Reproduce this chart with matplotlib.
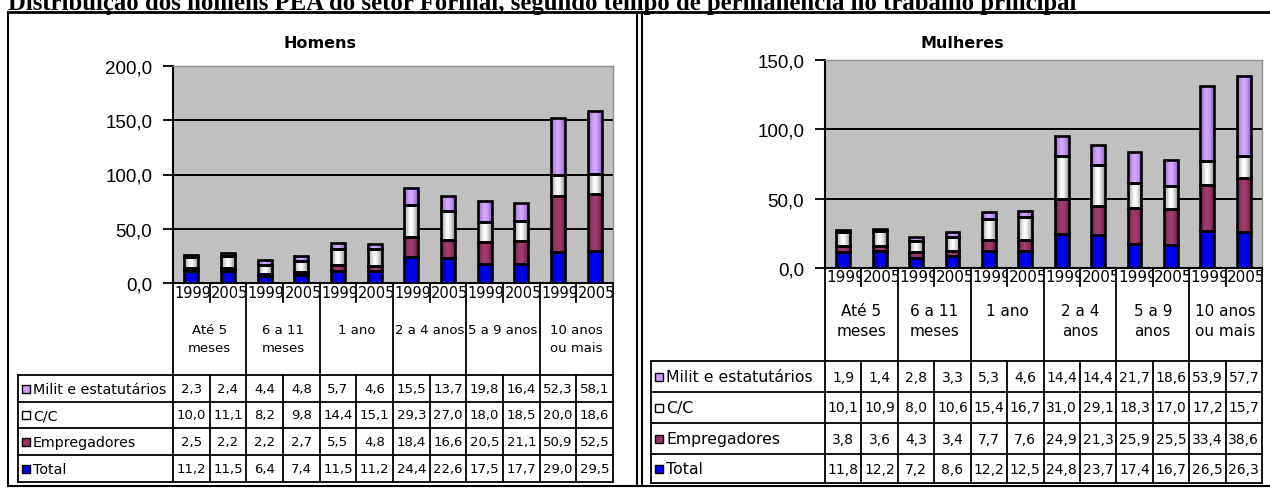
import numpy as np
import matplotlib
matplotlib.use("Agg")
import matplotlib.pyplot as plt
from matplotlib.colors import to_rgb
from matplotlib.patches import Rectangle
from matplotlib.transforms import Bbox, TransformedBbox

W, H = 1270, 489

titulo = "Distribuição dos homens PEA do setor Formal, segundo tempo de permanência no trabalho principal"
series = ["Milit e estatutários", "C/C", "Empregadores", "Total"]
anos = ["1999", "2005"] * 6
grupos_homens = ["Até 5\nmeses", "6 a 11\nmeses", "1 ano", "2 a 4 anos", "5 a 9 anos", "10 anos\nou mais"]
grupos_mulheres = ["Até 5\nmeses", "6 a 11\nmeses", "1 ano", "2 a 4\nanos", "5 a 9\nanos", "10 anos\nou mais"]

homens_milit = [2.3, 2.4, 4.4, 4.8, 5.7, 4.6, 15.5, 13.7, 19.8, 16.4, 52.3, 58.1]
homens_cc = [10.0, 11.1, 8.2, 9.8, 14.4, 15.1, 29.3, 27.0, 18.0, 18.5, 20.0, 18.6]
homens_empreg = [2.5, 2.2, 2.2, 2.7, 5.5, 4.8, 18.4, 16.6, 20.5, 21.1, 50.9, 52.5]
homens_total = [11.2, 11.5, 6.4, 7.4, 11.5, 11.2, 24.4, 22.6, 17.5, 17.7, 29.0, 29.5]

mulheres_milit = [1.9, 1.4, 2.8, 3.3, 5.3, 4.6, 14.4, 14.4, 21.7, 18.6, 53.9, 57.7]
mulheres_cc = [10.1, 10.9, 8.0, 10.6, 15.4, 16.7, 31.0, 29.1, 18.3, 17.0, 17.2, 15.7]
mulheres_empreg = [3.8, 3.6, 4.3, 3.4, 7.7, 7.6, 24.9, 21.3, 25.9, 25.5, 33.4, 38.6]
mulheres_total = [11.8, 12.2, 7.2, 8.6, 12.2, 12.5, 24.8, 23.7, 17.4, 16.7, 26.5, 26.3]

cores = {"Milit e estatutários": "#CC99FF", "C/C": "#FFFFFF",
         "Empregadores": "#993366", "Total": "#0000FF"}
# centro / borda do degradê de cada barra
degrades = {"Milit e estatutários": ("#D4AAFF", "#8E62C8"), "C/C": ("#FFFFFF", "#8C8C8C"),
            "Empregadores": ("#A33C70", "#6A1F45"), "Total": ("#0000FF", "#00009A")}

# layout em pixels
cfg_h = dict(ax=(173, 67, 613, 284), ymax=200, tab_left=18, ano_y=294, sep=303,
             grp_y=324, tab_top=376, linhas=[376, 403, 429, 456, 483],
             fs_ano=10.5, fs_grp=9.5, fs_val=9.5, fs_lab=10.3, titulo_x=320)
cfg_m = dict(ax=(825, 61, 1262, 269), ymax=150, tab_left=651, ano_y=277, sep=287,
             grp_y=304, tab_top=362, linhas=[362, 393, 424, 455, 484],
             fs_ano=11, fs_grp=11, fs_val=10, fs_lab=11.3, titulo_x=962)


def fmt(v):
    return f"{v:.1f}".replace(".", ",")


def clip_px(t, xa, ya, xb, yb, fig):
    bb = Bbox.from_extents(xa / W, 1 - yb / H, xb / W, 1 - ya / H)
    t.set_clip_box(TransformedBbox(bb, fig.transFigure))
    t.set_clip_on(True)


def degrade(ax, barras, c_centro, c_borda):
    t = np.linspace(0, 1, 40)
    m = np.abs(2 * t - 1) ** 1.5
    c0, c1 = np.array(to_rgb(c_centro)), np.array(to_rgb(c_borda))
    img = (c0 * (1 - m)[:, None] + c1 * m[:, None])[None, :, :]
    for b in barras:
        ax.imshow(img, extent=(b.get_x(), b.get_x() + b.get_width(), b.get_y(), b.get_y() + b.get_height()),
                  aspect="auto", interpolation="bilinear", zorder=4)


def painel(fig, ov, cfg, nome_painel, grupos, dados):
    x0, y0, x1, y1 = cfg["ax"]
    ax = fig.add_axes([x0 / W, 1 - y1 / H, (x1 - x0) / W, (y1 - y0) / H])
    ax.set_facecolor("#C0C0C0")
    pos = np.arange(len(anos))
    base = np.zeros(len(anos))
    for nome in ["Total", "Empregadores", "C/C", "Milit e estatutários"]:
        vals = np.array(dados[nome])
        barras = ax.bar(pos, vals, 0.38, bottom=base, color=cores[nome], linewidth=0, zorder=3)
        degrade(ax, barras, *degrades[nome])
        ax.bar(pos, vals, 0.38, bottom=base, fill=False, edgecolor="black", linewidth=1.9, zorder=5)
        base += vals
    ax.set_xlim(-0.5, len(anos) - 0.5)
    ax.set_ylim(0, cfg["ymax"])
    for g in range(50, cfg["ymax"], 50):
        ax.axhline(g, color="black", lw=1.4, zorder=1)
    ticks = list(range(0, cfg["ymax"] + 1, 50))
    ax.set_yticks(ticks)
    ax.set_yticklabels([fmt(v) for v in ticks], family="Liberation Sans", fontsize=13.5)
    ax.tick_params(axis="y", length=7, width=1.3, pad=8, direction="out")
    ax.set_xticks([])
    for s in ["left", "bottom"]:
        ax.spines[s].set_color("black")
        ax.spines[s].set_linewidth(1.5)
    for s in ["top", "right"]:
        ax.spines[s].set_color("#909090")
        ax.spines[s].set_linewidth(1)

    ov.text(cfg["titulo_x"], 43, nome_painel, ha="center", va="center",
            fontsize=11.5, weight="bold", family="DejaVu Sans")

    ncol = len(anos)
    cw = (x1 - x0) / ncol
    bordas = [x0 + i * cw for i in range(ncol + 1)]
    lw = 1.3
    top, linhas, tl = cfg["tab_top"], cfg["linhas"], cfg["tab_left"]

    for i, a in enumerate(anos):
        t = ov.text(bordas[i] + 1.5, cfg["ano_y"], a, ha="left", va="center",
                    fontsize=cfg["fs_ano"], family="DejaVu Sans")
        clip_px(t, bordas[i], y1, bordas[i + 1] - 1, top, fig)
    for i in range(ncol + 1):
        fim = top if i % 2 == 0 else cfg["sep"]
        ov.plot([bordas[i], bordas[i]], [y1, fim], color="black", lw=lw)
    for g, rot in enumerate(grupos):
        cx = (bordas[2 * g] + bordas[2 * g + 2]) / 2
        ov.text(cx, cfg["grp_y"], rot, ha="center", va="top", fontsize=cfg["fs_grp"],
                family="DejaVu Sans", linespacing=1.45)

    for yl in linhas:
        ov.plot([tl, x1], [yl, yl], color="black", lw=lw)
    for xv in [tl] + bordas:
        ov.plot([xv, xv], [linhas[0], linhas[-1]], color="black", lw=lw)

    for r, nome in enumerate(series):
        cy = (linhas[r] + linhas[r + 1]) / 2
        ov.add_patch(Rectangle((tl + 4, cy - 4), 8, 8, facecolor=cores[nome], edgecolor="black", lw=1))
        ov.text(tl + 15, cy, nome, ha="left", va="center", fontsize=cfg["fs_lab"], family="DejaVu Sans")
        for i, v in enumerate(dados[nome]):
            t = ov.text((bordas[i] + bordas[i + 1]) / 2, cy, fmt(v), ha="center", va="center",
                        fontsize=cfg["fs_val"], family="DejaVu Sans")
            clip_px(t, bordas[i] + 1, linhas[r], bordas[i + 1] - 1, linhas[r + 1], fig)


fig = plt.figure(figsize=(W / 100, H / 100), dpi=100)
ov = fig.add_axes([0, 0, 1, 1], zorder=10)
ov.set_xlim(0, W)
ov.set_ylim(H, 0)
ov.axis("off")
ov.patch.set_visible(False)

fig.text(8 / W, 1 - 10 / H, titulo, family="Liberation Serif", weight="bold", fontsize=17.8, va="baseline")

# molduras
ov.plot([8, W], [12.5, 12.5], color="black", lw=2)
ov.plot([8, 8], [12.5, 487], color="black", lw=1.5)
ov.plot([8, W], [487, 487], color="black", lw=1.5)
ov.plot([637, 637], [12.5, 487], color="black", lw=1.5)
ov.plot([641.5, 641.5], [12.5, 487], color="black", lw=1.5)

painel(fig, ov, cfg_h, "Homens", grupos_homens,
       {"Milit e estatutários": homens_milit, "C/C": homens_cc,
        "Empregadores": homens_empreg, "Total": homens_total})
painel(fig, ov, cfg_m, "Mulheres", grupos_mulheres,
       {"Milit e estatutários": mulheres_milit, "C/C": mulheres_cc,
        "Empregadores": mulheres_empreg, "Total": mulheres_total})

fig.savefig("out.png", dpi=100)
